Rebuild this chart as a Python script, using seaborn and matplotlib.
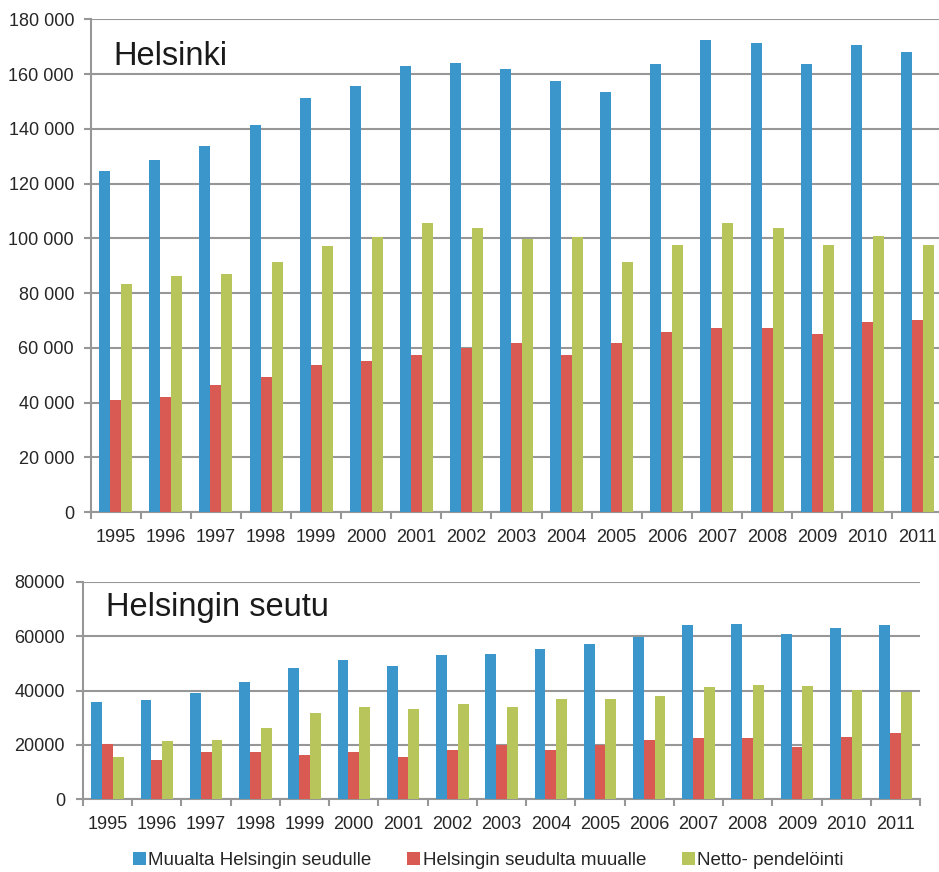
import numpy as np
import pandas as pd
import matplotlib
matplotlib.use("Agg")
import matplotlib.pyplot as plt
from matplotlib.ticker import FixedLocator, FuncFormatter
from matplotlib.patches import Patch
import seaborn as sns

years = [str(y) for y in range(1995, 2012)]
series_names = ["Muualta Helsingin seudulle", "Helsingin seudulta muualle", "Netto- pendelöinti"]
colors = ["#3A96CB", "#D95A52", "#B7C55A"]

# Helsinki
hki_in = [124500, 128600, 133700, 141400, 151300, 155800, 162900, 164100, 162000,
          157400, 153300, 163600, 172300, 171200, 163600, 170700, 168200]
hki_out = [40900, 41900, 46400, 49500, 53700, 55100, 57300, 60000, 61900,
           57300, 61900, 65600, 67100, 67100, 65000, 69600, 70100]
hki_net = [83400, 86400, 87000, 91500, 97200, 100300, 105400, 103900, 99800,
           100300, 91500, 97700, 105400, 103900, 97700, 100900, 97700]

# Helsingin seutu
reg_in = [35900, 36400, 39000, 43200, 48400, 51200, 49000, 53100, 53600,
          55200, 57300, 59800, 64000, 64500, 60900, 62900, 64000]
reg_out = [20500, 14600, 17300, 17300, 16200, 17300, 15700, 18300, 19900,
           18300, 19900, 21800, 22500, 22500, 19400, 22900, 24500]
reg_net = [15700, 21500, 21900, 26100, 31800, 34000, 33300, 35000, 34000,
           37000, 37000, 38100, 41200, 42200, 41700, 40200, 39600]

hki_yticks = [0, 20000, 40000, 60000, 80000, 100000, 120000, 140000, 160000, 180000]
reg_yticks = [0, 20000, 40000, 60000, 80000]

text_color = "#262626"
grid_color = "#979797"


def long_frame(a, b, c):
    return pd.DataFrame({
        "vuosi": years * 3,
        "sarja": [series_names[0]] * len(years) + [series_names[1]] * len(years) + [series_names[2]] * len(years),
        "arvo": list(a) + list(b) + list(c),
    })


sns.set_theme(style="white")
plt.rcParams["font.family"] = ["Liberation Sans", "DejaVu Sans"]

fig = plt.figure(figsize=(9.39, 8.72), dpi=100)
ax1 = fig.add_axes([0.0966, 0.4128, 0.9070, 0.5651])
ax2 = fig.add_axes([0.0884, 0.0834, 0.8914, 0.2492])


def draw(ax, df, yticks, fmt, title, ypad):
    sns.barplot(data=df, x="vuosi", y="arvo", hue="sarja", order=years,
                hue_order=series_names, palette=colors, width=0.66, gap=0,
                linewidth=0, saturation=1, legend=False, ax=ax, zorder=3)
    ax.set_xlim(-0.5, len(years) - 0.5)
    ax.set_ylim(yticks[0], yticks[-1])
    ax.yaxis.set_major_locator(FixedLocator(yticks))
    ax.yaxis.set_major_formatter(FuncFormatter(fmt))
    ax.set_xlabel("")
    ax.set_ylabel("")
    ax.grid(axis="y", color=grid_color, linewidth=1.5, zorder=0)
    ax.set_axisbelow(True)
    for side in ("top", "right"):
        ax.spines[side].set_visible(False)
    for side in ("left", "bottom"):
        ax.spines[side].set_color(grid_color)
        ax.spines[side].set_linewidth(1.5)
    ax.xaxis.set_minor_locator(FixedLocator(np.arange(-0.5, len(years), 1.0)))
    ax.tick_params(axis="x", which="major", length=0, pad=12, labelsize=13, labelcolor=text_color)
    ax.tick_params(axis="x", which="minor", length=5, width=1.5, color=grid_color, direction="out", bottom=True)
    ax.tick_params(axis="y", which="major", length=5, width=1.5, color=grid_color, direction="out",
                   left=True, pad=ypad, labelsize=13, labelcolor=text_color)
    ax.text(0.027, 0.955, title, transform=ax.transAxes, fontsize=23.5, color="#1a1a1a",
            ha="left", va="top")


draw(ax1, long_frame(hki_in, hki_out, hki_net), hki_yticks,
     lambda v, p: f"{int(v):,}".replace(",", " "), "Helsinki", 7)
draw(ax2, long_frame(reg_in, reg_out, reg_net), reg_yticks,
     lambda v, p: f"{int(v)}", "Helsingin seutu", 8)

handles = [Patch(facecolor=c, edgecolor="none") for c in colors]
fig.legend(handles, series_names, loc="center", bbox_to_anchor=(0.52, 0.0135),
           ncol=3, frameon=False, fontsize=13.5, handlelength=0.7, handleheight=0.7,
           handletextpad=0.12, columnspacing=1.9, labelcolor=text_color,
           borderpad=0.1)

fig.savefig("out.png", dpi=100)
